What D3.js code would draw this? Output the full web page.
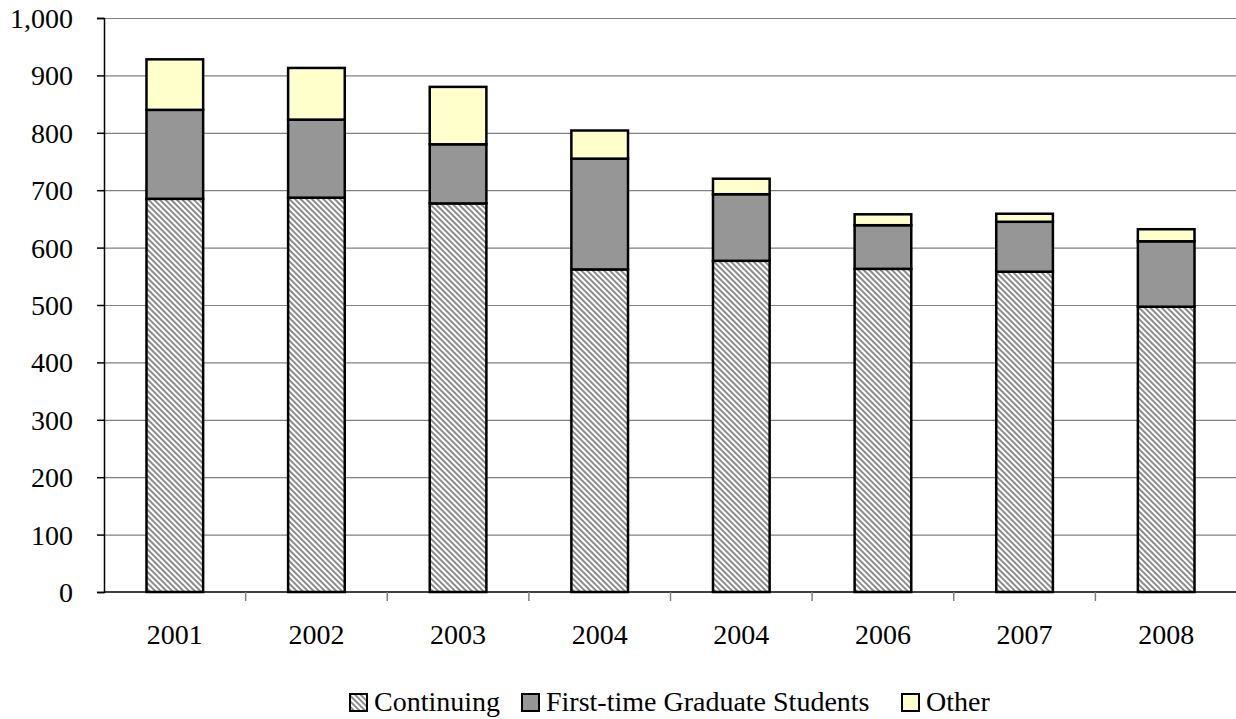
<!DOCTYPE html>
<html>
<head>
<meta charset="utf-8">
<script src="https://cdn.jsdelivr.net/npm/d3@7"></script>
<style>
  body { margin: 0; background: #fff; }
</style>
</head>
<body>
<svg width="1236" height="719"></svg>
<script>
var years = ["2001", "2002", "2003", "2004", "2004", "2006", "2007", "2008"];
var continuing = [685, 687, 677, 562, 577, 563, 558, 497];
var firstTime = [155, 136, 103, 193, 116, 76, 87, 114];
var other = [88, 90, 100, 49, 27, 19, 14, 21];
var seriesNames = ["Continuing", "First-time Graduate Students", "Other"];
var yTicks = [0, 100, 200, 300, 400, 500, 600, 700, 800, 900, 1000];

var FONT = "'Liberation Serif', 'Times New Roman', Times, serif";

var svg = d3.select("svg"),
    marginLeft = 104,
    marginTop = 18,
    innerWidth = 1237 - marginLeft,
    innerHeight = 592 - marginTop;

var defs = svg.append("defs");
var pat = defs.append("pattern")
    .attr("id", "hatch")
    .attr("patternUnits", "userSpaceOnUse")
    .attr("width", 4)
    .attr("height", 4)
    .attr("patternTransform", "rotate(45)");
pat.append("rect").attr("width", 4).attr("height", 4).attr("fill", "#fff");
pat.append("rect").attr("width", 4).attr("height", 2).attr("fill", "#8c8c8c");

var colors = ["url(#hatch)", "#969696", "#ffffcc"];

var table = years.map((y, i) => ({
    key: i,
    year: y,
    Continuing: continuing[i],
    "First-time Graduate Students": firstTime[i],
    Other: other[i]
}));
var stack = d3.stack().keys(seriesNames)(table);

var x = d3.scaleBand()
    .domain(d3.range(years.length))
    .range([0, innerWidth])
    .paddingInner(0.6)
    .paddingOuter(0.3);
var y = d3.scaleLinear().domain([0, 1000]).range([innerHeight, 0]);

var g = svg.append("g")
    .attr("transform", "translate(" + marginLeft + "," + marginTop + ")");

// gridlines
g.append("g")
    .selectAll("line")
    .data(yTicks.slice(1))
    .enter().append("line")
    .attr("x1", 0)
    .attr("x2", innerWidth)
    .attr("y1", d => y(d) + 0.5)
    .attr("y2", d => y(d) + 0.5)
    .attr("stroke", "#808080")
    .attr("stroke-width", 1.2);

// bars
g.append("g")
    .selectAll("g")
    .data(stack)
    .enter().append("g")
    .attr("fill", (d, i) => colors[i])
    .selectAll("rect")
    .data(d => d)
    .enter().append("rect")
    .attr("x", d => x(d.data.key))
    .attr("width", x.bandwidth())
    .attr("y", d => y(d[1]))
    .attr("height", d => y(d[0]) - y(d[1]))
    .attr("stroke", "#000")
    .attr("stroke-width", 2.5);

// y axis
var yAxis = g.append("g")
    .call(d3.axisLeft(y).tickValues(yTicks).tickSize(7).tickPadding(24).tickFormat(d3.format(",")));
yAxis.attr("font-family", null).attr("font-size", null);
yAxis.select(".domain").attr("stroke", "#000").attr("stroke-width", 1.5);
yAxis.selectAll(".tick line").attr("stroke", "#000").attr("stroke-width", 1.5);
yAxis.selectAll("text")
    .style("font-family", FONT)
    .style("font-size", "28px")
    .attr("fill", "#000")
    .attr("dy", "0.34em");

// x axis
var step = innerWidth / years.length;
var xg = g.append("g").attr("transform", "translate(0," + innerHeight + ")");
xg.append("line")
    .attr("x1", 0).attr("x2", innerWidth)
    .attr("stroke", "#000").attr("stroke-width", 1.5);
xg.selectAll(".sep")
    .data(d3.range(1, years.length))
    .enter().append("line")
    .attr("x1", d => d * step)
    .attr("x2", d => d * step)
    .attr("y1", 0).attr("y2", 9)
    .attr("stroke", "#808080").attr("stroke-width", 1.5);
xg.selectAll(".lbl")
    .data(years)
    .enter().append("text")
    .attr("x", (d, i) => x(i) + x.bandwidth() / 2)
    .attr("y", 52)
    .attr("text-anchor", "middle")
    .style("font-family", FONT)
    .style("font-size", "28px")
    .text(d => d);

// legend
var legendX = [350, 522, 902];
var leg = svg.append("g").selectAll("g")
    .data(seriesNames)
    .enter().append("g")
    .attr("transform", (d, i) => "translate(" + legendX[i] + ",694)");
leg.append("rect")
    .attr("width", 17).attr("height", 17)
    .attr("fill", (d, i) => colors[i])
    .attr("stroke", "#000").attr("stroke-width", 2);
leg.append("text")
    .attr("x", 24)
    .attr("y", 17)
    .style("font-family", FONT)
    .style("font-size", "28px")
    .text(d => d);
</script>
</body>
</html>
